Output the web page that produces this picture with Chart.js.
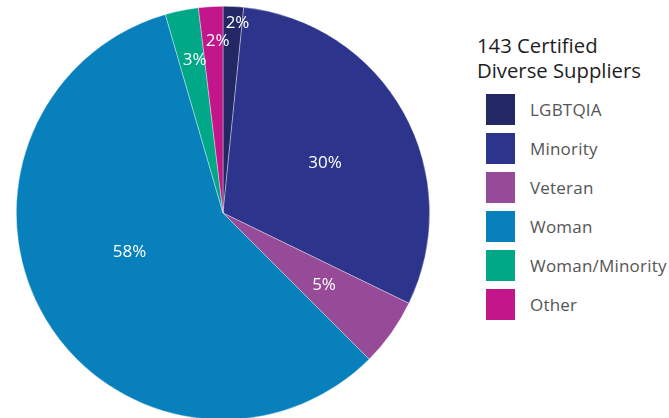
<!DOCTYPE html>
<html>
<head>
<meta charset="utf-8">
<script src="https://cdn.jsdelivr.net/npm/chart.js@4"></script>
<style>
  body { margin: 0; width: 669px; height: 418px; overflow: hidden; background: #fff; position: relative; font-family: "Open Sans", sans-serif; }
  #wrap { position: absolute; left: 0; top: 0; width: 447px; height: 426px; }
  #legend { position: absolute; left: 477px; top: 33px; }
  #legend .title { font-size: 20.3px; line-height: 25px; color: #1e1e1e; margin-bottom: 7px; }
  #legend .row { display: flex; align-items: center; height: 39px; margin-left: 9px; }
  #legend .box { width: 29px; height: 31px; margin-right: 15px; }
  #legend .lbl { font-size: 17px; color: #555; letter-spacing: 0.2px; }
</style>
</head>
<body>
<div id="wrap"><canvas id="pie"></canvas></div>
<div id="legend"></div>
<script>
// chart data
const title = ['143 Certified', 'Diverse Suppliers'];
const categories = ['LGBTQIA', 'Minority', 'Veteran', 'Woman', 'Woman/Minority', 'Other'];
const shares = [1.6, 30.6, 5.3, 58.0, 2.6, 1.9];
const shareLabels = ['2%', '30%', '5%', '58%', '3%', '2%'];
const colors = ['#232864', '#2d348c', '#974a98', '#0780bb', '#00a887', '#c4168b'];

// where each percent sits: fraction of radius, angle nudge (deg)
const labelSpots = [[0.92, 1.5], [0.55, 3], [0.60, 0], [0.49, 8], [0.75, 1], [0.83, 1.6]];

// draws the percent text on each slice
const sliceLabels = {
  id: 'sliceLabels',
  afterDatasetsDraw(chart) {
    const ctx = chart.ctx;
    const meta = chart.getDatasetMeta(0);
    ctx.save();
    ctx.fillStyle = '#fff';
    ctx.font = '17px "Open Sans"';
    ctx.textAlign = 'center';
    ctx.textBaseline = 'middle';
    meta.data.forEach((arc, i) => {
      const mid = (arc.startAngle + arc.endAngle) / 2 + labelSpots[i][1] * Math.PI / 180;
      const r = arc.outerRadius * labelSpots[i][0];
      ctx.fillText(shareLabels[i], arc.x + Math.cos(mid) * r, arc.y + Math.sin(mid) * r);
    });
    ctx.restore();
  }
};

new Chart(document.getElementById('pie'), {
  type: 'pie',
  data: {
    labels: categories,
    datasets: [{
      data: shares,
      backgroundColor: colors,
      borderColor: 'rgba(255,255,255,0.6)',
      borderWidth: 0.6
    }]
  },
  options: {
    responsive: true,
    maintainAspectRatio: false,
    animation: false,
    layout: { padding: { top: 6, bottom: 6, left: 16, right: 17 } },
    plugins: {
      legend: { display: false },
      tooltip: { enabled: false }
    }
  },
  plugins: [sliceLabels]
});

// legend on the right
const legend = document.getElementById('legend');
legend.innerHTML = `<div class="title">${title.join('<br>')}</div>` +
  categories.map((c, i) =>
    `<div class="row"><div class="box" style="background:${colors[i]}"></div><span class="lbl">${c}</span></div>`
  ).join('');
</script>
</body>
</html>
